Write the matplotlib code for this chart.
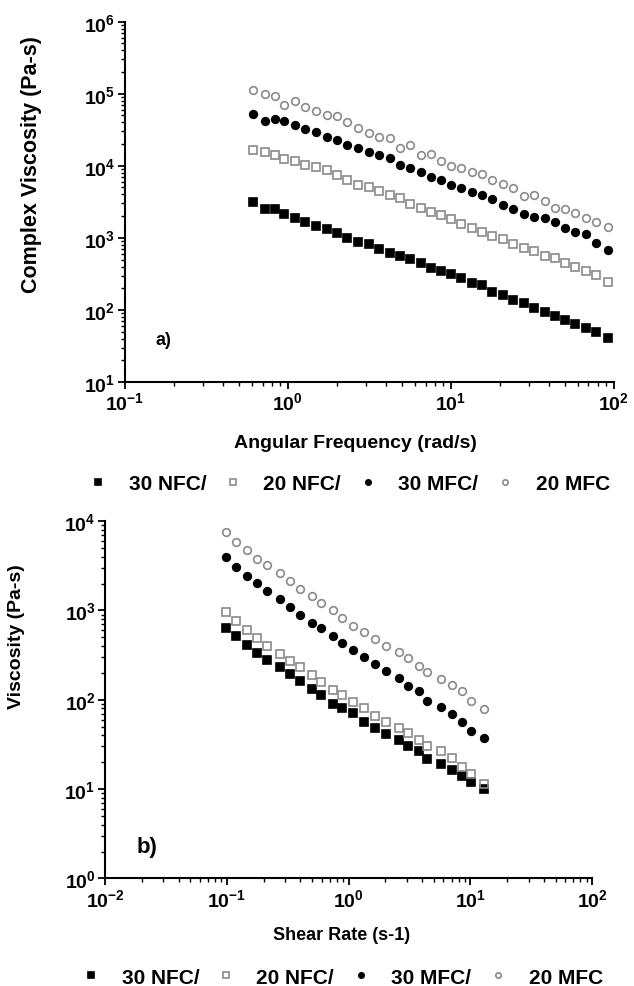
import matplotlib
matplotlib.use("Agg")
from matplotlib import pyplot as plt
from matplotlib.ticker import LogLocator

plt.rcParams['font.family'] = ['Liberation Sans', 'DejaVu Sans']
plt.rcParams['font.weight'] = 'bold'
plt.rcParams['mathtext.fontset'] = 'custom'
plt.rcParams['mathtext.rm'] = 'Liberation Sans:bold'
plt.rcParams['mathtext.bf'] = 'Liberation Sans:bold'
plt.rcParams['mathtext.it'] = 'Liberation Sans:bold'
plt.rcParams['axes.unicode_minus'] = False

labels = ["30 NFC/", "20 NFC/", "30 MFC/", "20 MFC"]

# a) oscillatory sweep
freq = [0.611, 0.725, 0.831, 0.953, 1.11, 1.28, 1.49, 1.73, 2.00, 2.32, 2.70, 3.13,
        3.63, 4.21, 4.88, 5.66, 6.53, 7.54, 8.74, 10.1, 11.6, 13.5, 15.6, 18.0,
        20.8, 24.1, 28.0, 32.5, 37.7, 43.7, 50.5, 58.2, 67.5, 78.3, 91.8]
cv_30nfc = [3120, 2520, 2520, 2120, 1910, 1680, 1460, 1310, 1160, 1005, 885, 812,
            700, 609, 565, 502, 442, 385, 346, 311, 273, 238, 221, 178,
            160, 137, 123, 107, 94, 83, 72, 63, 56, 50, 41]
cv_20nfc = [16600, 15400, 14200, 12500, 11500, 10300, 9550, 8780, 7480, 6370, 5430, 5140,
            4480, 3940, 3540, 2950, 2630, 2310, 2080, 1830, 1560, 1380, 1220, 1070,
            964, 821, 730, 656, 565, 519, 442, 397, 346, 304, 246]
cv_30mfc = [52100, 41200, 44900, 41200, 36300, 32300, 29300, 25500, 22900, 19500, 17600, 15500,
            13900, 12700, 10300, 9250, 8330, 7100, 6370, 5430, 4880, 4380, 3940, 3430,
            2860, 2490, 2120, 1970, 1870, 1640, 1360, 1220, 1120, 838, 677]
cv_20mfc = [113700, 100000, 93800, 70300, 78200, 64500, 58000, 50000, 48400, 40400, 33300, 28400,
            25500, 24700, 17600, 19600, 14200, 14500, 11500, 9970, 9250, 8320, 7640, 6370,
            5550, 4880, 3860, 3940, 3290, 2630, 2520, 2190, 1870, 1640, 1430]

# b) steady shear
shear = [0.098, 0.118, 0.145, 0.178, 0.212, 0.273, 0.327, 0.399, 0.501, 0.597, 0.750, 0.886,
         1.09, 1.34, 1.65, 2.04, 2.57, 3.05, 3.75, 4.37, 5.70, 7.05, 8.46, 10.2, 12.9]
v_30nfc = [634, 511, 412, 335, 282, 231, 192, 161, 132, 113, 90, 81,
           71, 57, 48, 41, 35, 30.5, 27, 21.8, 19.1, 16.3, 14.1, 12.0, 10.0]
v_20nfc = [960, 760, 610, 490, 405, 327, 275, 231, 190, 160, 128, 113,
           94, 80, 66, 57, 48, 42, 35, 30, 26.5, 22.3, 17.8, 14.7, 11.4]
v_30mfc = [3950, 3070, 2430, 2030, 1650, 1350, 1090, 894, 720, 633, 524, 430,
           365, 300, 252, 209, 174, 142, 124, 98, 82, 69, 56, 45, 37]
v_20mfc = [7600, 5900, 4700, 3800, 3200, 2650, 2150, 1750, 1450, 1210, 1020, 820,
           665, 570, 480, 405, 340, 293, 236, 204, 171, 147, 124, 97, 78]

gray = "#8a8a8a"
styles = [dict(marker='s', color='black', mec='black'),
          dict(marker='s', color='none', mec=gray, mfc='none'),
          dict(marker='o', color='black', mec='black'),
          dict(marker='o', color='none', mec=gray, mfc='none')]

fig = plt.figure(figsize=(6.34, 9.87), dpi=100)
ax1 = fig.add_axes([0.197, 0.612, 0.771, 0.365])
ax2 = fig.add_axes([0.166, 0.109, 0.768, 0.362])

legend_kw = dict(loc='center', ncol=4, frameon=False, fontsize=15, markerscale=0.7,
                 handlelength=0.8, handletextpad=1.05, columnspacing=0.9)


def style_axes(ax):
    ax.set_xscale('log')
    ax.set_yscale('log')
    for s in ('top', 'right'):
        ax.spines[s].set_visible(False)
    for s in ('left', 'bottom'):
        ax.spines[s].set_linewidth(1.5)
    ax.tick_params(which='major', direction='out', length=5, width=1.3, labelsize=14, pad=2)
    ax.tick_params(which='minor', direction='out', length=3, width=1.0)
    ax.xaxis.set_minor_locator(LogLocator(base=10, subs=range(2, 10), numticks=20))
    ax.yaxis.set_minor_locator(LogLocator(base=10, subs=range(2, 10), numticks=20))


style_axes(ax1)
for y, lab, st in zip([cv_30nfc, cv_20nfc, cv_30mfc, cv_20mfc], labels, styles):
    ax1.plot(freq, y, linestyle='none', markersize=5.5, mew=1.2, label=lab, **st)
ax1.set_xlim(0.1, 100)
ax1.set_ylim(10, 1e6)
ax1.set_xlabel("Angular Frequency (rad/s)", fontsize=14, fontweight='bold')
ax1.set_ylabel("Complex Viscosity (Pa-s)", fontsize=15.5, fontweight='bold')
ax1.xaxis.set_label_coords(0.472, -0.145)
ax1.yaxis.set_label_coords(-0.17, 0.605)
ax1.text(0.062, 0.105, "a)", transform=ax1.transAxes, fontsize=13, fontweight='bold')
h1, l1 = ax1.get_legend_handles_labels()
fig.legend(h1, l1, bbox_to_anchor=(0.552, 0.509), **legend_kw)

style_axes(ax2)
for y, lab, st in zip([v_30nfc, v_20nfc, v_30mfc, v_20mfc], labels, styles):
    ax2.plot(shear, y, linestyle='none', markersize=5.5, mew=1.2, label=lab, **st)
ax2.set_xlim(0.01, 100)
ax2.set_ylim(1, 1e4)
ax2.set_xlabel("Shear Rate (s-1)", fontsize=13, fontweight='bold')
ax2.set_ylabel("Viscosity (Pa-s)", fontsize=14, fontweight='bold')
ax2.xaxis.set_label_coords(0.485, -0.132)
ax2.yaxis.set_label_coords(-0.165, 0.68)
ax2.text(0.065, 0.075, "b)", transform=ax2.transAxes, fontsize=16, fontweight='bold')
h2, l2 = ax2.get_legend_handles_labels()
fig.legend(h2, l2, bbox_to_anchor=(0.541, 0.009), **legend_kw)

fig.savefig("out.png", dpi=100)
